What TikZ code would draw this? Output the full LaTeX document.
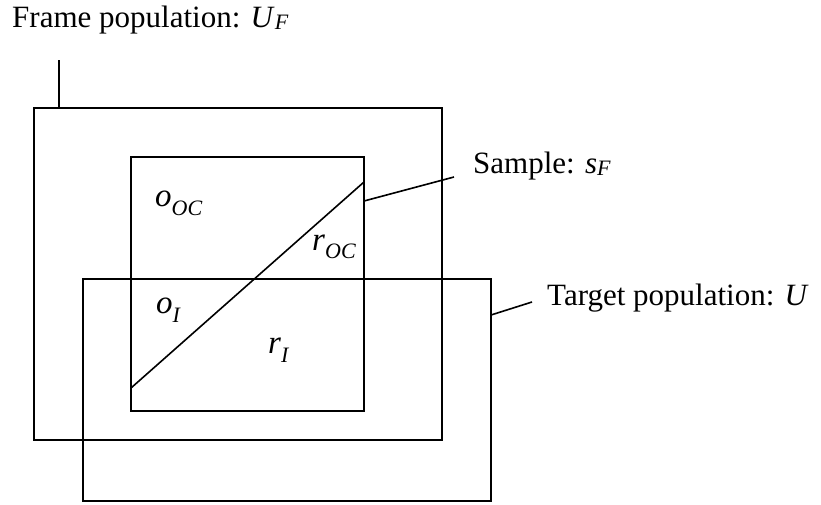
\documentclass[tikz,border=0pt]{standalone}
\usepackage{fontspec}
\setmainfont{Liberation Serif}
\newcommand{\mainsz}{\fontsize{31}{31}\selectfont}
\newcommand{\lblsz}{\fontsize{33}{33}\selectfont}
\newcommand{\subsc}[2]{\raisebox{-#2}{\fontsize{22}{22}\selectfont\itshape #1}}
\begin{document}
\begin{tikzpicture}[x=1pt,y=-1pt,
  box/.style={draw=black,line width=1.6pt},
  lead/.style={draw=black,line width=1.6pt},
  txt/.style={inner sep=0pt,anchor=base west,font=\mainsz},
  lbl/.style={inner sep=0pt,anchor=base west,font=\lblsz}]
\useasboundingbox (0,0) rectangle (821,504);
% rectangles
\coordinate (fTL) at (34,108); \coordinate (fBR) at (442,440);
\coordinate (sTL) at (131,157); \coordinate (sBR) at (364,411);
\coordinate (tTL) at (83,279); \coordinate (tBR) at (491,501);
\draw[box] (fTL) rectangle (fBR);
\draw[box] (sTL) rectangle (sBR);
\draw[box] (tTL) rectangle (tBR);
% diagonal
\coordinate (d1) at (131,388); \coordinate (d2) at (364,182);
\draw[lead] (d1) -- (d2);
% labels
\node[txt] (frame) at (12,27) {Frame population: \textit{U}\subsc{F}{2pt}};
\node[txt] (sample) at (473,173) {Sample: \textit{s}\subsc{F}{2pt}};
\node[txt] (target) at (547,305) {Target population: \textit{U}};
\node[lbl] (ooc) at (155,206) {\textit{o}\subsc{OC}{9pt}};
\node[lbl] (roc) at (312,250) {\textit{r}\subsc{OC}{8pt}};
\node[lbl] (oi) at (156,313) {\textit{o}\subsc{I}{9pt}};
\node[lbl] (ri) at (268,353) {\textit{r}\subsc{I}{9pt}};
% leader lines
\coordinate (fa) at (59,60); \coordinate (fb) at (59,108);
\draw[lead] (fa) -- (fb);
\coordinate (sa) at (364,201); \coordinate (sb) at (454,177);
\draw[lead] (sa) -- (sb);
\coordinate (ta) at (491,315); \coordinate (tb) at (532,302);
\draw[lead] (ta) -- (tb);
\end{tikzpicture}
\end{document}
